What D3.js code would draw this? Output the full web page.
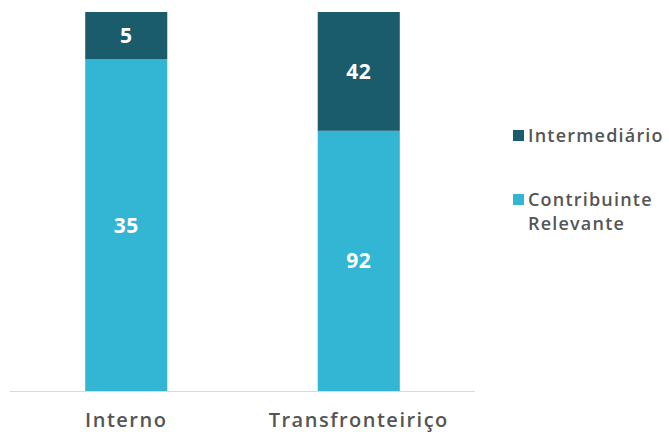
<!DOCTYPE html>
<html>
<head>
<meta charset="utf-8">
<script src="https://cdn.jsdelivr.net/npm/d3@7"></script>
<style>
  body { margin: 0; background: #fff; }
  svg text { font-family: "Open Sans", "Noto Sans", sans-serif; }
</style>
</head>
<body>
<div id="chart"></div>
<script>
const categories = ["Interno", "Transfronteiriço"];
const seriesNames = ["Contribuinte Relevante", "Intermediário"];
const contribuinte = [35, 92];
const intermediario = [5, 42];

const width = 669;
const height = 432;

const colors = { "Contribuinte Relevante": "#33b5d4", "Intermediário": "#1a5c6b" };

const rows = categories.map((c, i) => ({
  cat: c,
  "Contribuinte Relevante": contribuinte[i],
  "Intermediário": intermediario[i]
}));

// 100% stacked
const stack = d3.stack().keys(seriesNames).offset(d3.stackOffsetExpand);
const series = stack(rows);

const x = d3.scaleBand()
  .domain(categories)
  .range([10, 475])
  .paddingInner(0.647)
  .paddingOuter(0.3235);

const y = d3.scaleLinear().domain([0, 1]).range([391, 12]);

const svg = d3.select("#chart")
  .append("svg")
  .attr("width", width)
  .attr("height", height);

const groups = svg.selectAll(".serie")
  .data(series)
  .enter()
  .append("g")
  .attr("fill", d => colors[d.key]);

groups.selectAll("rect")
  .data(d => d.map(v => ({ v, key: d.key })))
  .enter()
  .append("rect")
  .attr("x", d => x(d.v.data.cat))
  .attr("width", x.bandwidth())
  .attr("y", d => y(d.v[1]))
  .attr("height", d => y(d.v[0]) - y(d.v[1]));

// value labels
groups.selectAll("text")
  .data(d => d.map(v => ({ v, key: d.key })))
  .enter()
  .append("text")
  .attr("x", d => x(d.v.data.cat) + x.bandwidth() / 2)
  .attr("y", d => (y(d.v[0]) + y(d.v[1])) / 2)
  .attr("dy", "0.36em")
  .attr("text-anchor", "middle")
  .attr("fill", "#fff")
  .style("font-size", "21px")
  .style("font-weight", "bold")
  .style("letter-spacing", "0.5px")
  .text(d => d.v.data[d.key]);

// baseline axis
svg.append("line")
  .attr("x1", 10).attr("x2", 475)
  .attr("y1", 391.5).attr("y2", 391.5)
  .attr("stroke", "#d9d9d9")
  .attr("stroke-width", 1);

// category labels
svg.selectAll(".cat")
  .data(categories)
  .enter()
  .append("text")
  .attr("x", d => x(d) + x.bandwidth() / 2)
  .attr("y", 427)
  .attr("text-anchor", "middle")
  .attr("fill", "#555")
  .style("font-size", "20px")
  .style("font-weight", "600")
  .style("letter-spacing", "1.5px")
  .text(d => d);

// legend
const legend = svg.append("g").attr("transform", "translate(513, 0)");
const legendItems = [
  { key: "Intermediário", lines: ["Intermediário"], y: 142 },
  { key: "Contribuinte Relevante", lines: ["Contribuinte", "Relevante"], y: 206 }
];
legendItems.forEach(it => {
  legend.append("rect")
    .attr("x", 0).attr("y", it.y - 12)
    .attr("width", 11).attr("height", 11)
    .attr("fill", colors[it.key]);
  it.lines.forEach((ln, j) => {
    legend.append("text")
      .attr("x", 15)
      .attr("y", it.y + j * 24)
      .attr("fill", "#555")
      .style("font-size", "18px")
      .style("font-weight", "600")
      .style("letter-spacing", "1.2px")
      .text(ln);
  });
});
</script>
</body>
</html>
